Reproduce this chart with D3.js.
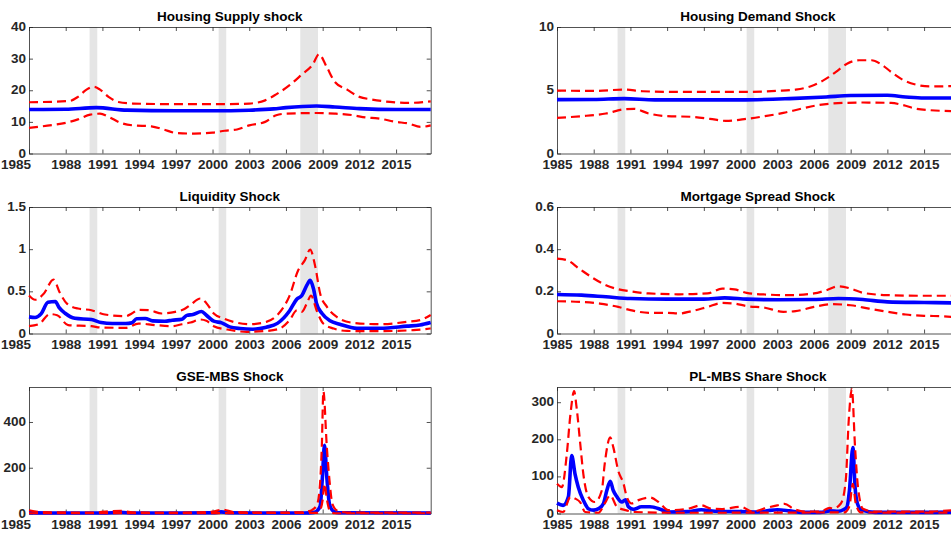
<html>
<head>
<script src="https://d3js.org/d3.v7.min.js"></script>
<style>
  body { margin: 0; background: #fff; }
  text { font-family: "Liberation Sans", Arial, Helvetica, sans-serif; font-weight: bold; }
</style>
</head>
<body>
<svg id="chart" width="951" height="533"></svg>
<script>
// ---- data ----
const titles = ['Housing Supply shock', 'Housing Demand Shock', 'Liquidity Shock',
                'Mortgage Spread Shock', 'GSE-MBS Shock', 'PL-MBS Share Shock']
const yMax = [40, 10, 1.5, 0.6, 553, 341]
const yTicks = [[0, 10, 20, 30, 40], [0, 5, 10], [0, 0.5, 1, 1.5], [0, 0.2, 0.4, 0.6], [0, 200, 400], [0, 100, 200, 300]]
const xTicks = [1985, 1988, 1991, 1994, 1997, 2000, 2003, 2006, 2009, 2012, 2015]
const recessions = [[1989.95, 1990.58], [2000.5, 2001.12], [2007.17, 2008.62]]

const supplyMed = [[1985,13.9],[1988,14.0],[1990.5,14.5],[1993,13.7],[1997,13.5],[2000,13.5],[2003,13.7],[2005,14.1],[2006,14.5],[2008.5,15.0],[2010,14.7],[2012,14.2],[2015,13.9],[2017.83,13.9]]
const supplyHi = [[1985,16.2],[1988.3,16.6],[1989,17.9],[1989.7,20.2],[1990.3,21.1],[1990.8,20.2],[1991.5,17.9],[1992.3,16.3],[1993.5,15.8],[1997,15.6],[2001,15.6],[2003,15.8],[2004.3,16.8],[2005.2,18.7],[2006.3,21.6],[2007.3,25],[2008.2,28.2],[2008.7,31.4],[2009.3,27.6],[2010,22.6],[2011,20.2],[2012,17.9],[2013,17.1],[2014.5,16.3],[2016,16.0],[2017.83,16.5]]
const supplyLo = [[1985,8.1],[1986.5,8.8],[1988,9.7],[1989,10.8],[1990,12.3],[1990.8,12.6],[1991.5,11.6],[1992.5,9.7],[1993.5,8.9],[1995,8.6],[1996,7.6],[1997,6.5],[1998.5,6.3],[2000,6.6],[2001,7.2],[2002,7.6],[2003,8.9],[2004.3,10],[2005.2,12.1],[2006,12.6],[2008.5,12.8],[2010,12.6],[2011.5,12.1],[2012.5,11.4],[2013.5,11.1],[2015,10],[2016,9.5],[2017,8.4],[2017.83,8.9]]

const demandMed = [[1985,4.26],[1988,4.27],[1990.5,4.34],[1993,4.24],[2000,4.24],[2004,4.34],[2007,4.47],[2009,4.58],[2012,4.6],[2013.5,4.47],[2015,4.39],[2017.83,4.39]]
const demandHi = [[1985,4.97],[1988,4.95],[1990.5,5.05],[1992,4.92],[1995,4.87],[2000,4.87],[2003,4.95],[2004.5,5.05],[2005.7,5.3],[2006.8,5.8],[2007.8,6.45],[2008.7,7.1],[2009.7,7.37],[2010.7,7.37],[2011.5,7.05],[2012.3,6.45],[2013.3,5.8],[2014.3,5.45],[2015.5,5.3],[2017.83,5.34]]
const demandLo = [[1985,2.82],[1987,2.95],[1989,3.16],[1990.5,3.5],[1991.3,3.53],[1992.5,3.16],[1994,2.95],[1996,2.9],[1997.5,2.74],[1998.8,2.58],[2000.5,2.74],[2002,2.95],[2003.5,3.21],[2005,3.55],[2006.3,3.82],[2007.5,3.95],[2010,4.03],[2012.3,4.0],[2013.3,3.82],[2014.3,3.55],[2015.5,3.42],[2017.83,3.34]]

const liqMed = [[1985,0.197],[1985.5,0.19],[1986,0.235],[1986.55,0.37],[1987.15,0.38],[1987.45,0.31],[1987.95,0.24],[1988.75,0.18],[1990.1,0.165],[1990.9,0.13],[1991.8,0.118],[1992.9,0.118],[1993.4,0.126],[1993.8,0.175],[1994.5,0.178],[1995.1,0.15],[1996.1,0.146],[1996.7,0.158],[1997.5,0.17],[1997.9,0.215],[1998.4,0.225],[1999.1,0.26],[1999.5,0.217],[2000.1,0.146],[2000.75,0.126],[2001.4,0.079],[2002.25,0.059],[2003.3,0.051],[2004.4,0.075],[2005.3,0.12],[2006.3,0.27],[2006.9,0.41],[2007.3,0.45],[2007.7,0.57],[2007.98,0.63],[2008.25,0.53],[2008.5,0.355],[2008.95,0.237],[2009.6,0.15],[2010.4,0.11],[2011.8,0.062],[2013.7,0.062],[2015.9,0.087],[2016.95,0.1],[2017.83,0.13]]
const liqHi = [[1985,0.45],[1985.5,0.40],[1986.2,0.47],[1987,0.64],[1987.5,0.49],[1988.1,0.355],[1989,0.296],[1990.1,0.276],[1991.2,0.225],[1992.9,0.205],[1993.4,0.237],[1993.95,0.28],[1994.8,0.276],[1995.85,0.237],[1996.95,0.257],[1997.7,0.29],[1998.2,0.34],[1999,0.415],[1999.5,0.36],[2000.1,0.237],[2000.9,0.178],[2001.7,0.138],[2003.1,0.11],[2004.4,0.138],[2005.3,0.22],[2006.3,0.45],[2007,0.75],[2007.55,0.87],[2007.98,0.995],[2008.4,0.79],[2008.8,0.47],[2009.35,0.316],[2010.15,0.197],[2011.5,0.126],[2013.7,0.11],[2015.9,0.138],[2016.95,0.158],[2017.83,0.22]]
const liqLo = [[1985,0.087],[1985.8,0.11],[1986.7,0.23],[1987.3,0.217],[1988.2,0.1],[1990.1,0.087],[1990.9,0.071],[1992.9,0.067],[1993.95,0.118],[1995.3,0.1],[1996.7,0.087],[1997.5,0.11],[1998.2,0.13],[1999,0.166],[1999.5,0.15],[2000.1,0.087],[2001.2,0.047],[2002.8,0.02],[2004.4,0.03],[2005.5,0.059],[2006.3,0.158],[2006.9,0.276],[2007.3,0.257],[2007.7,0.355],[2008.05,0.45],[2008.5,0.276],[2009.05,0.118],[2009.9,0.059],[2011,0.03],[2013.7,0.028],[2016.4,0.04],[2017.83,0.06]]

const spreadMed = [[1985,0.185],[1987,0.182],[1989,0.174],[1991,0.166],[1994,0.163],[1997,0.163],[1998.7,0.169],[2000.5,0.163],[2003,0.16],[2006,0.161],[2008,0.166],[2010,0.161],[2012,0.15],[2015,0.147],[2017.83,0.145]]
const spreadHi = [[1985,0.355],[1985.8,0.348],[1986.8,0.308],[1988,0.261],[1989,0.229],[1990,0.21],[1991,0.2],[1992.5,0.19],[1995,0.186],[1997.3,0.19],[1998.5,0.213],[1999.5,0.209],[2000.5,0.193],[2002,0.185],[2004,0.182],[2006,0.19],[2007,0.205],[2008,0.224],[2009,0.213],[2010,0.193],[2012,0.182],[2015,0.179],[2017.83,0.179]]
const spreadLo = [[1985,0.153],[1987,0.15],[1988.5,0.142],[1990,0.126],[1991,0.111],[1992.5,0.098],[1994,0.098],[1995,0.095],[1996,0.106],[1997.3,0.126],[1998.5,0.145],[1999.5,0.142],[2000.5,0.13],[2002,0.122],[2003.5,0.103],[2004.5,0.106],[2006,0.126],[2007.5,0.139],[2009,0.134],[2010.5,0.118],[2012,0.103],[2013.5,0.09],[2015,0.084],[2016.5,0.082],[2017.83,0.074]]

const gseMed = [[1985,4],[1987,2],[1991,2],[1992.5,5],[1993.5,2],[1997,2],[2000,3],[2000.7,7],[2001.5,3],[2005,2],[2007.5,2],[2008.3,5],[2008.6,15],[2008.8,34],[2008.98,159],[2009.15,298],[2009.34,159],[2009.56,41],[2009.9,9],[2010.3,3],[2017.83,2]]
const gseHi = [[1985,14],[1986,6],[1990,4],[1992.5,12],[1993.5,5],[1997,4],[2000,8],[2000.8,17],[2001.8,6],[2005,4],[2007.2,5],[2008,12],[2008.5,34],[2008.74,100],[2008.93,291],[2009.06,534],[2009.34,291],[2009.56,144],[2009.8,41],[2010.2,12],[2011,4],[2017.83,4]]
const gseLo = [[1985,1],[2008.5,3],[2008.8,15],[2009.0,60],[2009.15,130],[2009.35,60],[2009.6,10],[2010,1],[2017.83,1]]

const plMed = [[1985,28],[1985.5,22],[1985.93,45],[1986.2,156],[1986.47,107],[1986.74,71],[1987.15,36],[1987.56,13],[1987.97,9],[1988.4,13],[1988.8,27],[1989.07,62],[1989.35,87],[1989.6,62],[1989.9,45],[1990.3,31],[1990.6,37],[1990.84,18],[1991.25,11],[1991.9,18],[1992.6,18],[1993.5,11],[1994.1,4],[1995.7,5],[1996.8,10],[1997.9,6],[2000,5],[2001.5,4],[2002.3,8],[2003,10],[2004,7],[2005,3],[2006.5,3],[2007.3,7],[2008,6],[2008.4,10],[2008.7,18],[2008.9,62],[2009.18,178],[2009.36,71],[2009.55,27],[2009.9,9],[2011,3],[2015,3],[2017.83,4]]
const plHi = [[1985,80],[1985.4,71],[1985.8,160],[1986.1,268],[1986.4,330],[1986.6,286],[1986.9,188],[1987.15,107],[1987.56,45],[1988.1,31],[1988.66,62],[1988.9,134],[1989.35,205],[1989.6,179],[1990,116],[1990.44,80],[1990.7,45],[1991.1,27],[1991.66,36],[1992.6,43],[1993.3,31],[1994.1,9],[1995.7,13],[1996.8,22],[1997.6,13],[1998.5,12],[2000,18],[2001,5],[2002,14],[2003,22],[2003.6,26],[2004.3,13],[2005.3,5],[2006.5,5],[2007.3,15],[2007.55,13],[2008.2,27],[2008.6,89],[2008.84,250],[2009.1,335],[2009.36,178],[2009.6,71],[2010,13],[2011,5],[2015,5],[2017.83,10]]
const plLo = [[1985,9],[1985.5,4],[1986.1,45],[1986.5,40],[1986.9,30],[1987.3,4],[1988.4,2],[1988.9,27],[1989.35,49],[1989.9,18],[1990.6,9],[1991.4,4],[1995,2],[2008.5,3],[2008.9,20],[2009.18,80],[2009.4,30],[2009.8,3],[2017.83,2]]

const medians = [supplyMed, demandMed, liqMed, spreadMed, gseMed, plMed]
const uppers = [supplyHi, demandHi, liqHi, spreadHi, gseHi, plHi]
const lowers = [supplyLo, demandLo, liqLo, spreadLo, gseLo, plLo]

// ---- layout ----
const svg = d3.select('svg#chart')
const colLeft = [29, 557]
const rowTop = [27, 207, 387]
const plotW = 401.7
const plotH = 126.5
const axisColor = '#262626'

titles.forEach((title, i) => {
    const col = i % 2
    const row = Math.floor(i / 2)
    const g = svg.append('g')
        .attr('transform', `translate(${colLeft[col]}, ${rowTop[row]})`)

    const xScale = d3.scaleLinear().domain([1985, 2017.83]).range([0, plotW])
    const yScale = d3.scaleLinear().domain([0, yMax[i]]).range([plotH, 0])

    // recession bars
    g.selectAll('rect.rec').data(recessions)
        .join('rect')
        .attr('class', 'rec')
        .attr('x', d => xScale(d[0]))
        .attr('width', d => xScale(d[1]) - xScale(d[0]))
        .attr('y', 0)
        .attr('height', plotH)
        .attr('fill', '#e5e5e5')

    // axes, MATLAB style box with inward ticks
    g.append('g').attr('transform', `translate(0, ${plotH})`)
        .call(d3.axisBottom(xScale).tickValues(xTicks).tickFormat(d3.format('')).tickSizeInner(-4).tickSizeOuter(0).tickPadding(5.5))
        .attr('class', 'xaxis')
    g.append('g')
        .call(d3.axisTop(xScale).tickValues(xTicks).tickFormat('').tickSizeInner(-4).tickSizeOuter(0))
    g.append('g')
        .call(d3.axisLeft(yScale).tickValues(yTicks[i]).tickFormat(d3.format('')).tickSizeInner(-4).tickSizeOuter(0).tickPadding(3))
        .attr('class', 'yaxis')
    g.append('g').attr('transform', `translate(${plotW}, 0)`)
        .call(d3.axisRight(yScale).tickValues(yTicks[i]).tickFormat('').tickSizeInner(-4).tickSizeOuter(0))

    g.selectAll('.domain').attr('stroke', axisColor).attr('stroke-width', 0.8)
    g.selectAll('.tick line').attr('stroke', axisColor).attr('stroke-width', 0.8)
    g.selectAll('.tick text')
        .attr('fill', axisColor)
        .style('font-size', '13.5px')
        .style('font-family', '"Liberation Sans", Arial, sans-serif')
        .style('font-weight', 'bold')
    g.select('.yaxis').selectAll('.tick text').attr('dy', '0.26em')

    // first year label in the left column sits flush with the figure edge
    if (col === 0) {
        g.select('.xaxis').select('.tick text')
            .attr('text-anchor', 'start')
            .attr('x', -colLeft[0] + 0.5)
    }

    g.append('text')
        .attr('x', plotW / 2)
        .attr('y', -6.5)
        .attr('text-anchor', 'middle')
        .attr('fill', '#000')
        .style('font-size', '13.5px')
        .text(title)

    const line = d3.line()
        .x(d => xScale(d[0]))
        .y(d => yScale(d[1]))
        .curve(d3.curveMonotoneX)

    g.append('path')
        .attr('d', line(medians[i]))
        .attr('fill', 'none')
        .attr('stroke', '#0000ff')
        .attr('stroke-width', 3.6)
        .attr('stroke-linejoin', 'round')

    ;[uppers[i], lowers[i]].forEach(s => {
        g.append('path')
            .attr('d', line(s))
            .attr('fill', 'none')
            .attr('stroke', '#ff0000')
            .attr('stroke-width', 2.2)
            .attr('stroke-dasharray', '9,5')
    })
})
</script>
</body>
</html>
